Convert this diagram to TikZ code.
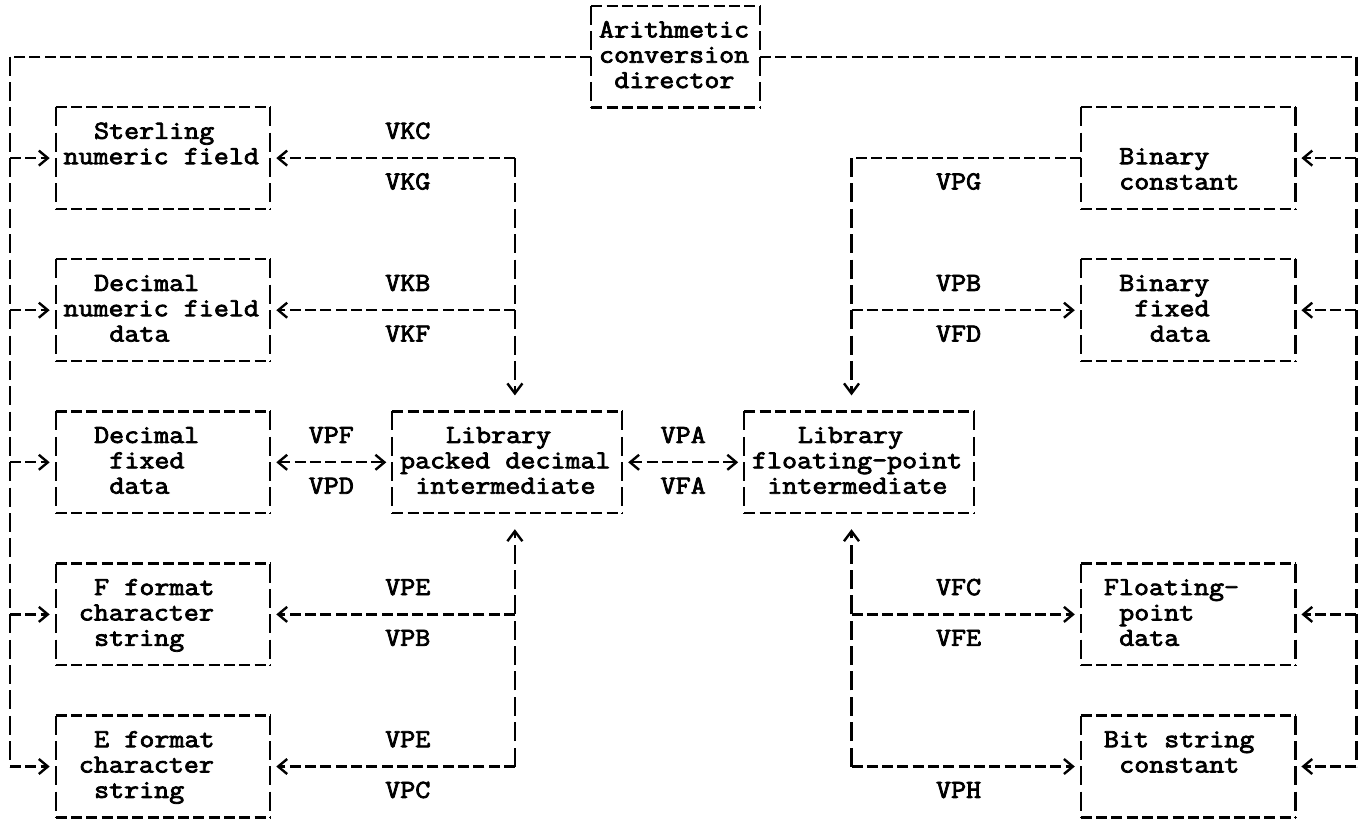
\documentclass[tikz,border=0pt]{standalone}
\usepackage{fontspec}
\newfontfamily\typew{Latin Modern Mono}[FakeStretch=1.121, FakeBold=3]
\usetikzlibrary{arrows.meta}
\newlength\cw \setlength\cw{15.3pt}
\newcommand\tstrut{\rule[-6.65pt]{0pt}{25.35pt}}
\newcommand\sk{\hspace*{\cw}}
\newcommand\tline[2]{\mbox{\hspace*{#1\cw}#2\tstrut}}
\newcommand\mybox[6]{%
  \pgfmathsetmacro\bw{(#3-#2)*15.3}%
  \pgfmathsetmacro\bh{(#5-#4)*25.35}%
  \pgfmathsetmacro\tw{(#3-#2-1)*15.3}%
  \node[boxs, minimum width=\bw pt, minimum height=\bh pt, text width=\tw pt] (#1) at ({(#2+#3)/2},{(#4+#5)/2}) {#6};}
\tikzset{
  boxs/.style={draw=none, inner xsep=7.65pt, inner ysep=0pt, align=left, anchor=center},
  lab/.style={inner sep=0pt, anchor=center},
  hd/.style={line width=2.3pt, dash pattern=on 11pt off 4.3pt},
  vd/.style={line width=2.3pt, dash pattern=on 19pt off 6.35pt},
  arr/.style={-{Straight Barb[length=9pt,width=15pt,line width=2.4pt]}, shorten >=6pt},
  both/.style={{Straight Barb[length=9pt,width=15pt,line width=2.4pt]}-{Straight Barb[length=9pt,width=15pt,line width=2.4pt]}, shorten >=6pt, shorten <=6pt},
  varr/.style={-{Straight Barb[length=10pt,width=15pt,line width=2.4pt]}, shorten >=16pt}
}
\begin{document}
\begin{tikzpicture}[font=\typew\fontsize{26pt}{25.35pt}\selectfont]
\fill[white] (0pt,0pt) rectangle (1361pt,-820pt);
\useasboundingbox (0pt,0pt) rectangle (1361pt,-820pt);
\begin{scope}[x=15.3pt, y=-25.35pt, shift={(10pt,19.35pt)}]
% boxes
\mybox{A}{38}{49}{1}{5}{\tline{0}{Arithmetic}\\\tline{0}{conversion}\\\tline{1}{director}}
\mybox{S}{3}{17}{5}{9}{\tline{2}{Sterling}\\\tline{0}{numeric\sk{}field}\\\tline{0}{}}
\mybox{D}{3}{17}{11}{15}{\tline{2}{Decimal}\\\tline{0}{numeric\sk{}field}\\\tline{3}{data}}
\mybox{X}{3}{17}{17}{21}{\tline{2}{Decimal}\\\tline{3}{fixed}\\\tline{3}{data}}
\mybox{FF}{3}{17}{23}{27}{\tline{2}{F\sk{}format}\\\tline{1}{character}\\\tline{2}{string}}
\mybox{EF}{3}{17}{29}{33}{\tline{2}{E\sk{}format}\\\tline{1}{character}\\\tline{2}{string}}
\mybox{P}{25}{40}{17}{21}{\tline{3}{Library}\\\tline{0}{packed\sk{}decimal}\\\tline{1}{intermediate}}
\mybox{F}{48}{63}{17}{21}{\tline{3}{Library}\\\tline{0}{floating-point}\\\tline{1}{intermediate}}
\mybox{BC}{70}{84}{5}{9}{\tline{0}{}\\\tline{2}{Binary}\\\tline{2}{constant}}
\mybox{BF}{70}{84}{11}{15}{\tline{2}{Binary}\\\tline{3}{fixed}\\\tline{4}{data}}
\mybox{FP}{70}{84}{23}{27}{\tline{1}{Floating-}\\\tline{2}{point}\\\tline{2}{data}}
\mybox{BS}{70}{84}{29}{33}{\tline{1}{Bit\sk{}string}\\\tline{2}{constant}\\\tline{0}{}}
\foreach \n in {A,S,D,X,FF,EF,P,F,BC,BF,FP,BS}{
  \draw[hd] (\n.north west) -- (\n.north east);
  \draw[hd] (\n.south west) -- (\n.south east);
  \draw[vd] (\n.north west) -- (\n.south west);
  \draw[vd] (\n.north east) -- (\n.south east);
}
% coordinates
\coordinate (tl) at (0,3);
\coordinate (tr) at (88,3);
\coordinate (bl) at (0,31);
\coordinate (br) at (88,31);
\coordinate (lj7) at (0,7);
\coordinate (lj13) at (0,13);
\coordinate (lj19) at (0,19);
\coordinate (lj25) at (0,25);
\coordinate (rj7) at (88,7);
\coordinate (rj13) at (88,13);
\coordinate (rj25) at (88,25);
\coordinate (k7) at (33,7);
\coordinate (k13) at (33,13);
\coordinate (k25) at (33,25);
\coordinate (k31) at (33,31);
\coordinate (m7) at (55,7);
\coordinate (m13) at (55,13);
\coordinate (m25) at (55,25);
\coordinate (m31) at (55,31);
% director lines
\draw[hd] (A.west) -- (tl);
\draw[hd] (A.east) -- (tr);
\draw[vd] (tl) -- (bl);
\draw[vd] (tr) -- (br);
\draw[hd,arr] (lj7) -- (S.west);
\draw[hd,arr] (lj13) -- (D.west);
\draw[hd,arr] (lj19) -- (X.west);
\draw[hd,arr] (lj25) -- (FF.west);
\draw[hd,arr] (bl) -- (EF.west);
\draw[hd,arr] (rj7) -- (BC.east);
\draw[hd,arr] (rj13) -- (BF.east);
\draw[hd,arr] (rj25) -- (FP.east);
\draw[hd,arr] (br) -- (BS.east);
% left inner
\draw[hd,arr] (k7) -- (S.east);
\draw[hd,arr] (k13) -- (D.east);
\draw[hd,arr] (k25) -- (FF.east);
\draw[hd,arr] (k31) -- (EF.east);
\draw[vd,varr] (k7) -- (k7 |- P.north);
\draw[vd,varr] (k31) -- (k31 |- P.south);
\draw[hd,both] (X.east) -- (P.west);
\draw[hd,both] (P.east) -- (F.west);
% right inner
\draw[hd] (BC.west) -- (m7);
\draw[vd,varr] (m7) -- (m7 |- F.north);
\draw[vd,varr] (m31) -- (m31 |- F.south);
\draw[hd,arr] (m13) -- (BF.west);
\draw[hd,arr] (m25) -- (FP.west);
\draw[hd,arr] (m31) -- (BS.west);
% labels
\node[lab] (l1) at (26,6) {\tstrut VKC};
\node[lab] (l2) at (26,8) {\tstrut VKG};
\node[lab] (l3) at (26,12) {\tstrut VKB};
\node[lab] (l4) at (26,14) {\tstrut VKF};
\node[lab] (l5) at (21,18) {\tstrut VPF};
\node[lab] (l6) at (21,20) {\tstrut VPD};
\node[lab] (l7) at (44,18) {\tstrut VPA};
\node[lab] (l8) at (44,20) {\tstrut VFA};
\node[lab] (l9) at (26,24) {\tstrut VPE};
\node[lab] (l10) at (26,26) {\tstrut VPB};
\node[lab] (l11) at (26,30) {\tstrut VPE};
\node[lab] (l12) at (26,32) {\tstrut VPC};
\node[lab] (r1) at (62,8) {\tstrut VPG};
\node[lab] (r2) at (62,12) {\tstrut VPB};
\node[lab] (r3) at (62,14) {\tstrut VFD};
\node[lab] (r4) at (62,24) {\tstrut VFC};
\node[lab] (r5) at (62,26) {\tstrut VFE};
\node[lab] (r6) at (62,32) {\tstrut VPH};
\end{scope}
\end{tikzpicture}
\end{document}
